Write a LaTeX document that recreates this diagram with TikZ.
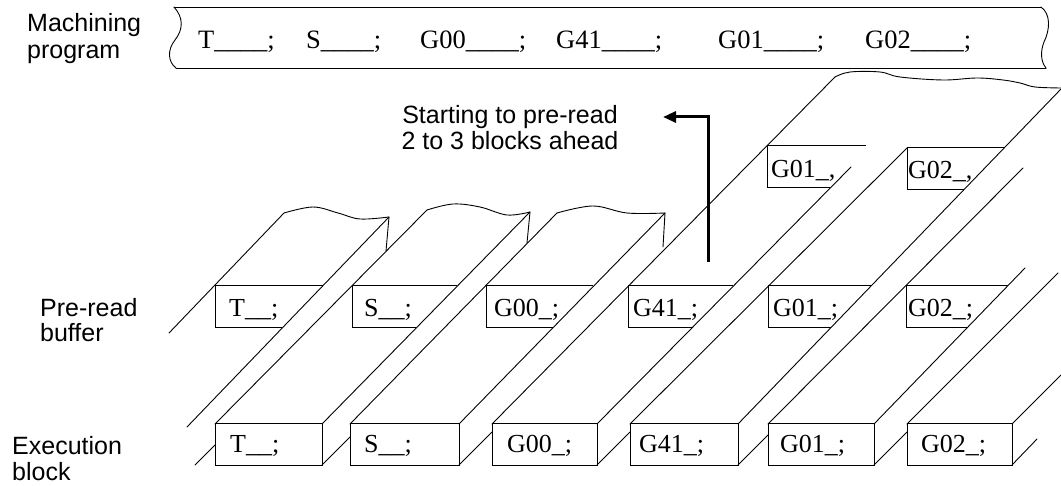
\documentclass[tikz,border=0pt]{standalone}
\usepackage{fontspec}
\setmainfont{Liberation Serif}
\newfontfamily\labfont{Liberation Sans}
\usetikzlibrary{arrows.meta}
\begin{document}
\begin{tikzpicture}[x=1pt,y=-1pt,
  edge/.style={line width=0.9pt, line cap=round, line join=round},
  boxline/.style={line width=1pt, line join=miter},
  code/.style={font=\fontsize{26}{28}\selectfont, anchor=base west, inner sep=0pt},
  tapetext/.style={font=\fontsize{26.5}{28}\selectfont, anchor=base west, inner sep=0pt},
  lbl/.style={font=\labfont\fontsize{25}{27}\selectfont, anchor=base west, inner sep=0pt},
  lblc/.style={font=\labfont\fontsize{25}{27}\selectfont, anchor=base, inner sep=0pt},
  wave/.style={line width=0.9pt, smooth, tension=0.6}
]
\useasboundingbox (0,0) rectangle (1061,486);

% ---------------- machining program tape ----------------
\draw[edge] (174,7) -- (1041,7);
\draw[edge] (176,68) -- (1046,68);
\draw[edge] (174,7) .. controls (184,18) and (183,30) .. (175,40) .. controls (167,50) and (168,62) .. (176,68);
\draw[edge] (1041,7) .. controls (1051,14) and (1050,30) .. (1044,42) .. controls (1040,52) and (1041,62) .. (1046,68);
\node[tapetext] (pT)   at (198,49) {T\_\_\_\_;};
\node[tapetext] (pS)   at (306,49) {S\_\_\_\_;};
\node[tapetext] (pG00) at (420,49) {G00\_\_\_\_;};
\node[tapetext] (pG41) at (556,49) {G41\_\_\_\_;};
\node[tapetext] (pG01) at (718,49) {G01\_\_\_\_;};
\node[tapetext] (pG02) at (865,49) {G02\_\_\_\_;};

% ---------------- column -1 (partial strip) ----------------
\draw[edge] (169,333) -- (284,213);
\draw[edge] (187,427) -- (389,217);
\draw[edge] (195,465) -- (215,445);
\draw[wave] plot coordinates {(284,213) (313,207) (338,213) (360,219) (389,217)};
\draw[edge] (389,217) -- (386,251);
\draw[boxline] (282,328) -- (215,328) -- (215,286) -- (323,286);
\node[code] (rT) at (229,317) {T\_\_;};

% ---------------- column 0 : T ----------------
\draw[boxline] (215,424) rectangle (322,465);
\node[code] (eT) at (230,452) {T\_\_;};
\draw[edge] (215,424) -- (427,210);
\draw[edge] (322,424) -- (530,212);
\draw[edge] (322,465) -- (350,437);
\draw[wave] plot coordinates {(427,210) (453,204) (480,207) (507,215) (530,212)};
\draw[edge] (530,212) -- (527,243);
\draw[boxline] (416,328) -- (352,328) -- (352,286) -- (457,286);
\node[code] (rS) at (364,317) {S\_\_;};

% ---------------- column 1 : S ----------------
\draw[boxline] (350,424) rectangle (459,465);
\node[code] (eS) at (364,452) {S\_\_;};
\draw[edge] (350,424) -- (557,213);
\draw[edge] (459,424) -- (665,213);
\draw[edge] (459,465) -- (492,432);
\draw[wave] plot coordinates {(557,213) (593,206) (627,213) (665,213)};
\draw[edge] (665,213) -- (663,247);
\draw[boxline] (553,328) -- (486,328) -- (486,286) -- (593,286);
\node[code] (rG00) at (494,317) {G00\_;};

% ---------------- column 2 : G00 ----------------
\draw[boxline] (492,424) rectangle (597,465);
\node[code] (eG00) at (507,452) {G00\_;};
\draw[edge] (492,424) -- (835,77);
\draw[edge] (597,424) -- (851,167);
\draw[edge] (597,465) -- (630,432);
\draw[wave] plot coordinates {(835,77) (850,72) (880,72) (900,77) (943,80) (977,78) (1003,80) (1020,83) (1035,87) (1061,88)};
\draw[boxline] (692,328) -- (628,328) -- (628,286) -- (733,286);
\node[code] (rG41) at (633,317) {G41\_;};
\draw[boxline] (830,188) -- (767,188) -- (767,146) -- (866,146);
\node[code] (uG01) at (771,178) {G01\_,};

% ---------------- column 3 : G41 ----------------
\draw[boxline] (630,424) rectangle (738,465);
\node[code] (eG41) at (639,452) {G41\_;};
\draw[edge] (630,424) -- (907,148);
\draw[edge] (738,424) -- (1061,89);
\draw[edge] (738,465) -- (768,435);
\draw[boxline] (831,328) -- (768,328) -- (768,286) -- (871,286);
\node[code] (rG01) at (773,317) {G01\_;};
\draw[boxline] (964,190) -- (907,190) -- (907,148) -- (1004,148);
\node[code] (uG02) at (908,179) {G02\_,};

% ---------------- column 4 : G01 ----------------
\draw[boxline] (768,424) rectangle (874,465);
\node[code] (eG01) at (780,452) {G01\_;};
\draw[edge] (768,424) -- (1023,168);
\draw[edge] (874,424) -- (1025,268);
\draw[edge] (874,465) -- (907,432);
\draw[boxline] (967,328) -- (906,328) -- (906,286) -- (1008,286);
\node[code] (rG02) at (908,317) {G02\_;};

% ---------------- column 5 : G02 ----------------
\draw[boxline] (907,424) rectangle (1012,465);
\node[code] (eG02) at (921,452) {G02\_;};
\draw[edge] (907,424) -- (1058,273);
\draw[edge] (1012,424) -- (1061,375);
\draw[edge] (1012,465) -- (1037,439);

% ---------------- labels ----------------
\node[lbl] (mach1) at (27,32) {Machining};
\node[lbl] (mach2) at (27,59) {program};
\node[lbl] (pre1) at (40,317) {Pre-read};
\node[lbl] (pre2) at (40,342) {buffer};
\node[lbl] (exe1) at (12,454) {Execution};
\node[lbl] (exe2) at (12,480) {block};
\node[lblc] (st1) at (510,124) {Starting to pre-read};
\node[lblc] (st2) at (510,150) {2 to 3 blocks ahead};

% ---------------- arrow ----------------
\coordinate (arrS) at (708,262);
\coordinate (arrE) at (663,117);
\draw[line width=3pt, -{Triangle[length=13pt,width=11pt]}] (arrS) |- (arrE);
\end{tikzpicture}
\end{document}
